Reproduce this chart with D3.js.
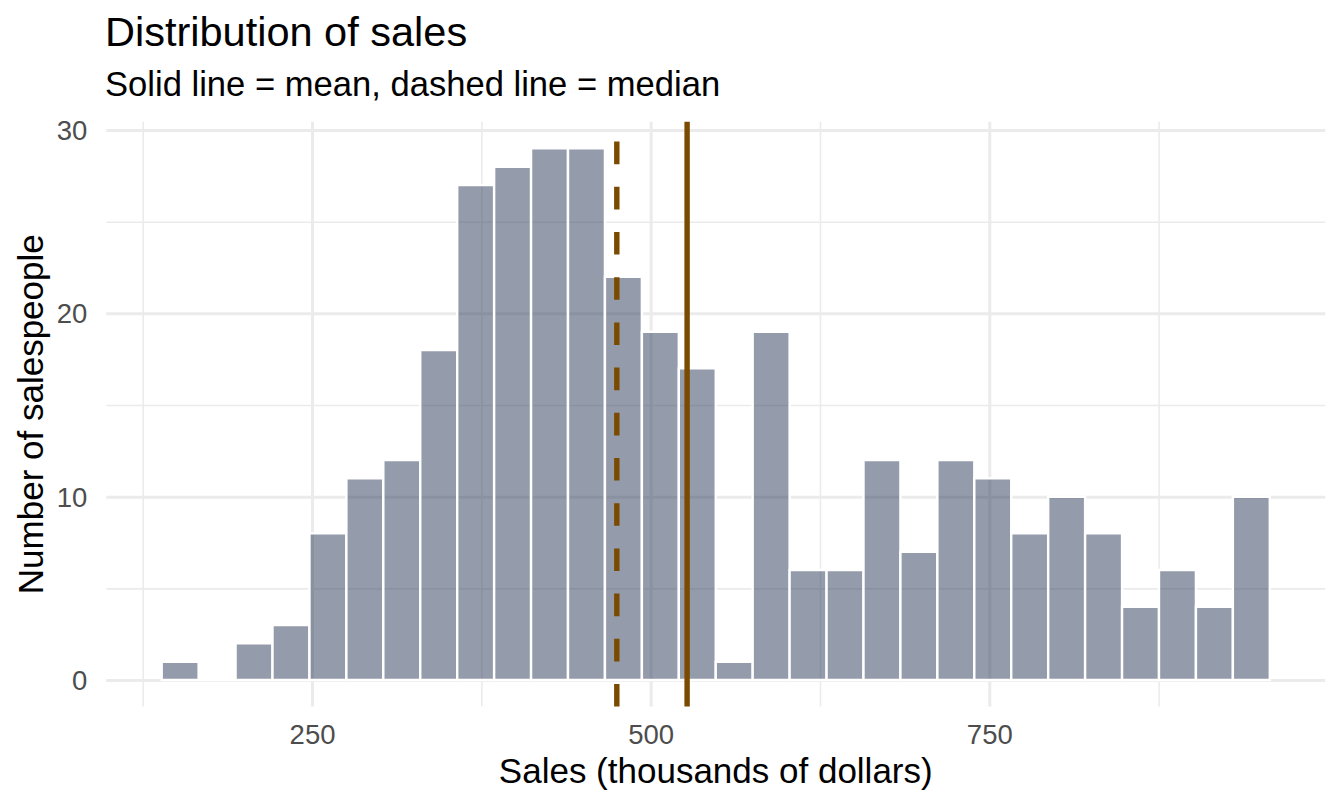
<!DOCTYPE html>
<html>
<head>
<meta charset="utf-8">
<script src="https://cdn.jsdelivr.net/npm/d3@7"></script>
<style>
  body { margin: 0; background: #fff; }
  svg text { font-family: "Liberation Sans", Arial, Helvetica, sans-serif; }
</style>
</head>
<body>
<div class="histplot"></div>
<script>
// data
var binEdges = [139.00, 166.27, 193.54, 220.81, 248.08, 275.35, 302.62, 329.89, 357.16, 384.43,
                411.70, 438.97, 466.24, 493.51, 520.78, 548.05, 575.32, 602.59, 629.86, 657.13,
                684.40, 711.67, 738.94, 766.21, 793.48, 820.75, 848.02, 875.29, 902.56, 929.83, 957.10];
var counts = [1, 0, 2, 3, 8, 11, 12, 18, 27, 28, 29, 29, 22, 19, 17, 1, 19, 6, 6, 12, 7, 12, 11, 8, 10, 8, 4, 6, 4, 10];
var salesMean = 526.9;
var salesMedian = 475.0;
var xMajor = [250, 500, 750];
var xMinor = [125, 375, 625, 875];
var yMajor = [0, 10, 20, 30];
var yMinor = [5, 15, 25];

var W = 1344, H = 806;
var panel = {left: 106.3, right: 1325.2, top: 121.8, bottom: 706.6};

var svg = d3.select(".histplot").append("svg")
    .attr("width", W)
    .attr("height", H);

// scales
var x = d3.scaleLinear()
    .domain([98.1, 998.0])
    .range([panel.left, panel.right]);

var y = d3.scaleLinear()
    .domain([-1.45, 30.45])
    .range([panel.bottom, panel.top]);

var bins = counts.map((c, i) => ({x0: binEdges[i], x1: binEdges[i + 1], n: c}));

// grid
var grid = svg.append("g").attr("class", "grid");

grid.append("g")
    .attr("transform", `translate(0,${panel.bottom})`)
    .call(d3.axisBottom(x).tickValues(xMinor).tickSize(-(panel.bottom - panel.top)).tickFormat(""))
    .call(g => g.select(".domain").remove())
    .call(g => g.selectAll("line").attr("stroke", "#ebebeb").attr("stroke-width", 1.6));

grid.append("g")
    .attr("transform", `translate(${panel.left},0)`)
    .call(d3.axisLeft(y).tickValues(yMinor).tickSize(-(panel.right - panel.left)).tickFormat(""))
    .call(g => g.select(".domain").remove())
    .call(g => g.selectAll("line").attr("stroke", "#ebebeb").attr("stroke-width", 1.6));

grid.append("g")
    .attr("transform", `translate(0,${panel.bottom})`)
    .call(d3.axisBottom(x).tickValues(xMajor).tickSize(-(panel.bottom - panel.top)).tickFormat(""))
    .call(g => g.select(".domain").remove())
    .call(g => g.selectAll("line").attr("stroke", "#ebebeb").attr("stroke-width", 3));

grid.append("g")
    .attr("transform", `translate(${panel.left},0)`)
    .call(d3.axisLeft(y).tickValues(yMajor).tickSize(-(panel.right - panel.left)).tickFormat(""))
    .call(g => g.select(".domain").remove())
    .call(g => g.selectAll("line").attr("stroke", "#ebebeb").attr("stroke-width", 3));

// bars (paths so an empty bin still draws its white outline)
svg.append("g")
    .attr("class", "bars")
  .selectAll("path")
  .data(bins)
  .join("path")
    .attr("d", d => `M${x(d.x0)},${y(0)}H${x(d.x1)}V${y(d.n)}H${x(d.x0)}Z`)
    .attr("fill", "rgb(41,55,85)")
    .attr("fill-opacity", 0.5)
    .attr("stroke", "#ffffff")
    .attr("stroke-width", 2.4);

// mean and median
svg.append("line")
    .attr("class", "mean-line")
    .attr("x1", x(salesMean)).attr("x2", x(salesMean))
    .attr("y1", panel.bottom).attr("y2", panel.top)
    .attr("stroke", "#794a00")
    .attr("stroke-width", 5.4);

svg.append("line")
    .attr("class", "median-line")
    .attr("x1", x(salesMedian)).attr("x2", x(salesMedian))
    .attr("y1", panel.bottom).attr("y2", panel.top)
    .attr("stroke", "#794a00")
    .attr("stroke-width", 5.4)
    .attr("stroke-dasharray", "22.6,22.6");

// axis labels
svg.append("g")
    .attr("class", "x-axis")
    .attr("transform", `translate(0,${panel.bottom})`)
    .call(d3.axisBottom(x).tickValues(xMajor).tickSize(0).tickPadding(0))
    .call(g => g.select(".domain").remove())
    .call(g => g.selectAll("text")
        .attr("dy", null)
        .attr("y", 37.5)
        .style("font-size", "27.5px")
        .attr("fill", "#4d4d4d"));

svg.append("g")
    .attr("class", "y-axis")
    .attr("transform", `translate(${panel.left},0)`)
    .call(d3.axisLeft(y).tickValues(yMajor).tickSize(0).tickPadding(0))
    .call(g => g.select(".domain").remove())
    .call(g => g.selectAll("text")
        .attr("x", -19)
        .attr("dy", "0.35em")
        .style("font-size", "27.5px")
        .attr("fill", "#4d4d4d"));

// titles
svg.append("text")
    .attr("x", 105)
    .attr("y", 46)
    .style("font-size", "41.5px")
    .text("Distribution of sales");

svg.append("text")
    .attr("x", 105)
    .attr("y", 96)
    .style("font-size", "34.6px")
    .text("Solid line = mean, dashed line = median");

svg.append("text")
    .attr("x", (panel.left + panel.right) / 2)
    .attr("y", 783)
    .attr("text-anchor", "middle")
    .style("font-size", "35px")
    .text("Sales (thousands of dollars)");

svg.append("text")
    .attr("transform", `translate(43,${(panel.top + panel.bottom) / 2}) rotate(-90)`)
    .attr("text-anchor", "middle")
    .style("font-size", "35px")
    .text("Number of salespeople");
</script>
</body>
</html>
